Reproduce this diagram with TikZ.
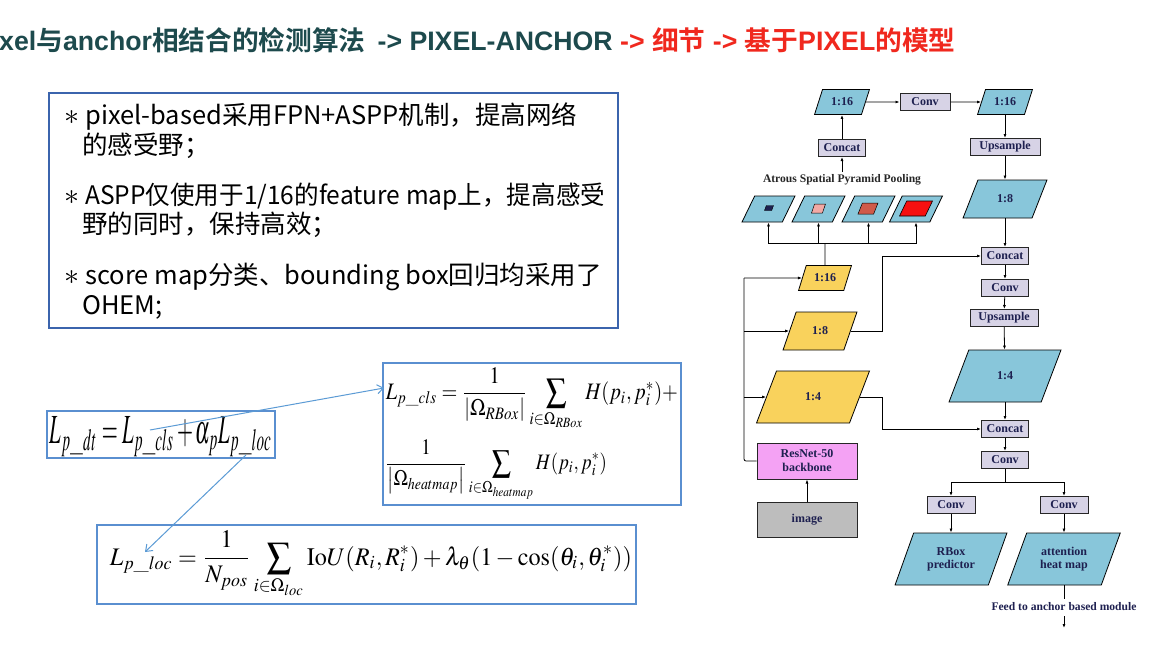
\documentclass[tikz,border=0pt]{standalone}
\usepackage{amsmath}
\usepackage{mathptmx}
\usepackage[no-math]{fontspec}
\usetikzlibrary{shapes.geometric,arrows.meta}
\newfontfamily\zh{Noto Sans CJK SC}[BoldFont={Noto Sans CJK SC Bold}]
\newfontfamily\arb{Liberation Sans}
\newfontfamily\tms{Liberation Serif}
\definecolor{ttl}{HTML}{1D4A4D}
\definecolor{tred}{HTML}{F0281E}
\definecolor{bluep}{HTML}{88C6DA}
\definecolor{yelp}{HTML}{F9D25C}
\definecolor{lav}{HTML}{D7D3E6}
\definecolor{pinkb}{HTML}{F4A2F4}
\definecolor{grayb}{HTML}{BDBDBD}
\definecolor{navy}{HTML}{1E2050}
\definecolor{tbord}{HTML}{3B64AD}
\definecolor{fbord}{HTML}{5A8FD0}
\definecolor{barrow}{HTML}{5B9BD5}
\definecolor{in2}{HTML}{F2A9A5}
\definecolor{in3}{HTML}{D05A4A}
\definecolor{in4}{HTML}{F61010}
\begin{document}
\begin{tikzpicture}[x=1pt,y=-1pt,
  every node/.style={inner sep=0pt},
  para/.style={trapezium, trapezium left angle=64, trapezium right angle=116,
    trapezium stretches=true, draw=black, line width=0.8pt, inner sep=1pt,
    font=\tms\bfseries\fontsize{12}{13}\selectfont, text=navy, align=center},
  opbox/.style={rectangle, draw=black!85, line width=1pt, fill=lav,
    minimum width=47pt, minimum height=17pt,
    font=\tms\bfseries\fontsize{12}{13}\selectfont, text=navy},
  arr/.style={-{Latex[length=4pt,width=3pt]}, line width=0.8pt},
  ln/.style={line width=0.8pt},
  txtline/.style={anchor=base west, font=\zh\fontsize{25.5}{30}\selectfont, text=black},
  starmark/.style={font=\fontsize{30}{30}\selectfont},
  fbox/.style={rectangle, draw=fbord, line width=1.3pt},
  barr/.style={draw=barrow, line width=1pt, -{Straight Barb[length=6pt,width=9pt]}},
]
\useasboundingbox (0,0) rectangle (1165,661);
\fill[white] (0,0) rectangle (1165,661);

% ---------- title ----------
\node[anchor=west, font=\fontsize{26.7}{30}\selectfont\bfseries] (title) at (-1,40)
 {{\color{ttl}{\arb xel}{\zh 与}{\arb anchor}{\zh 相结合的检测算法}\hspace{12pt}{\arb -> PIXEL-ANCHOR }}{\color{tred}{\arb -> }{\zh 细节}{\arb\ -> }{\zh 基于}{\arb PIXEL}{\zh 的模型}}};

% ---------- text box ----------
\node[rectangle, draw=tbord, line width=1.3pt, minimum width=569pt, minimum height=235pt] (tbox) at (333.5,210.5) {};
\node[starmark] (s1) at (72,118) {$\ast$};
\node[starmark] (s2) at (72,198) {$\ast$};
\node[starmark] (s3) at (72,278) {$\ast$};
\node[txtline] (t1) at (85,124) {pixel-based采用FPN+ASPP机制，提高网络};
\node[txtline] (t2) at (82,154) {的感受野；};
\node[txtline] (t3) at (85,204) {\scalebox{0.963}[1]{ASPP仅使用于1/16的feature map上，提高感受}};
\node[txtline] (t4) at (82,233) {野的同时，保持高效；};
\node[txtline] (t5) at (85,284) {score map分类、bounding box回归均采用了};
\node[txtline] (t6) at (82,314) {OHEM;};

% ---------- formulas ----------
\node[fbox, minimum width=228pt, minimum height=47pt] (box1) at (161,434.5) {};
\node[fbox, minimum width=298pt, minimum height=142pt] (box2) at (532,434) {};
\node[fbox, minimum width=539pt, minimum height=79pt] (box3) at (366.5,564.5) {};

\node (f1) at (161,436.5) {\resizebox*{222pt}{40pt}{$L_{p\_dt}=L_{p\_cls}+\alpha_p L_{p\_loc}$}};
\node (f2) at (532,399) {\resizebox*{292pt}{62pt}{$\displaystyle L_{p\_cls}=\frac{1}{\left|\Omega_{RBox}\right|}\sum_{i\in\Omega_{RBox}}H(p_i,p_i^{*})+$}};
\node (f3) at (496,470.5) {\resizebox*{222pt}{61pt}{$\displaystyle \frac{1}{\left|\Omega_{heatmap}\right|}\sum_{i\in\Omega_{heatmap}}H(p_i,p_i^{*})$}};
\node (f4) at (371,564.5) {\resizebox*{522pt}{67pt}{$\displaystyle L_{p\_loc}=\frac{1}{N_{pos}}\sum_{i\in\Omega_{loc}}\mathrm{Io}U(R_i,R_i^{*})+\lambda_\theta(1-\cos(\theta_i,\theta_i^{*}))$}};

\coordinate (a1s) at (150,430);
\coordinate (a1e) at (384,388);
\coordinate (a2s) at (246,455);
\coordinate (a2e) at (145,552);
\draw[barr] (a1s) -- (a1e);
\draw[barr] (a2s) -- (a2e);

% ---------- network: left column ----------
\node[para, fill=bluep, minimum width=55pt, minimum height=25pt] (L16) at (842,102) {1:16};
\node[opbox, minimum width=50pt] (conv0) at (925,102) {Conv};
\node[para, fill=bluep, minimum width=55pt, minimum height=25pt] (R16) at (1005,102) {1:16};
\node[opbox] (concatA) at (842,148) {Concat};
\node[font=\tms\bfseries\fontsize{11.6}{13}\selectfont, text=black!85] (asppl) at (842,180) {Atrous Spatial Pyramid Pooling};
\coordinate (asppt) at (842,172);

\node[para, fill=bluep, minimum width=53pt, minimum height=26pt] (p1) at (768.5,209) {\phantom{x}};
\node[para, fill=bluep, minimum width=53pt, minimum height=26pt] (p2) at (818.5,209) {\phantom{x}};
\node[para, fill=bluep, minimum width=53pt, minimum height=26pt] (p3) at (868.5,209) {\phantom{x}};
\node[para, fill=bluep, minimum width=53pt, minimum height=26pt] (p4) at (916,209) {\phantom{x}};
\node[para, fill=navy, line width=0.4pt, inner sep=0.2pt, font=\fontsize{2}{2}\selectfont, minimum width=9pt, minimum height=5pt] (i1) at (769,208) {\phantom{x}};
\node[para, fill=in2, line width=0.5pt, font=\fontsize{3}{3}\selectfont, minimum width=14pt, minimum height=9pt] (i2) at (818.5,208.5) {\phantom{x}};
\node[para, fill=in3, line width=0.5pt, font=\fontsize{3}{3}\selectfont, minimum width=20pt, minimum height=11pt] (i3) at (868,208.5) {\phantom{x}};
\node[para, fill=in4, line width=0.6pt, font=\fontsize{3}{3}\selectfont, minimum width=33pt, minimum height=15pt] (i4) at (916,208.5) {\phantom{x}};

\node[para, fill=yelp, minimum width=53pt, minimum height=25pt] (Y16) at (825,278) {1:16};
\node[para, fill=yelp, minimum width=74pt, minimum height=38pt] (Y8) at (820,331) {1:8};
\node[para, fill=yelp, minimum width=113pt, minimum height=52pt] (Y4) at (813,397) {1:4};
\node[rectangle, draw=black!85, line width=1pt, fill=pinkb, minimum width=100pt, minimum height=36pt,
  font=\tms\bfseries\fontsize{12}{14}\selectfont, text=navy, align=center] (resnet) at (807,461) {ResNet-50\\backbone};
\node[rectangle, draw=black!85, line width=1pt, fill=grayb, minimum width=100pt, minimum height=35pt,
  font=\tms\bfseries\fontsize{12}{13}\selectfont, text=navy] (image) at (807,520) {image};

\draw[arr] (L16) -- (conv0);
\draw[arr] (conv0) -- (R16);
\draw[arr] (concatA) -- (L16);
\draw[arr] (asppt) -- (concatA);
\coordinate (bus) at (825,243);
\draw[ln] (Y16.north) -- (bus);
\draw[arr] (bus) -| (p1.south);
\draw[arr] (bus) -| (p2.south);
\draw[arr] (bus) -| (p3.south);
\draw[arr] (bus) -| (p4.south);
\draw[arr] (image) -- (resnet);
\coordinate (bb) at (744,278);
\draw[ln, rounded corners=2pt] (resnet.west) -| (bb);
\draw[arr] (bb) -- (Y16.west);
\draw[arr] (bb |- Y8.west) -- (Y8.west);
\draw[arr] (bb |- Y4.west) -- (Y4.west);

% ---------- network: right column ----------
\node[opbox, minimum width=70pt] (up1) at (1005,147) {Upsample};
\node[para, fill=bluep, minimum width=84pt, minimum height=38pt] (B8) at (1005,199) {1:8};
\node[opbox] (concat1) at (1005,256) {Concat};
\node[opbox] (convB) at (1005,288) {Conv};
\node[opbox, minimum width=68pt] (up2) at (1004,318) {Upsample};
\node[para, fill=bluep, minimum width=112pt, minimum height=52pt] (B4) at (1005,376) {1:4};
\node[opbox] (concat2) at (1005,429) {Concat};
\node[opbox] (convC) at (1005,460) {Conv};
\node[opbox, minimum width=48pt] (convL) at (951,505) {Conv};
\node[opbox, minimum width=48pt] (convR) at (1064,505) {Conv};
\node[para, fill=bluep, minimum width=112pt, minimum height=52pt] (rbox) at (951,559) {RBox\\predictor};
\node[para, fill=bluep, minimum width=113pt, minimum height=52pt] (att) at (1064,559) {attention\\heat map};
\node[font=\tms\bfseries\fontsize{11.6}{13}\selectfont, text=navy] (feed) at (1064,607) {Feed to anchor based module};
\coordinate (attb) at (1064,585);
\coordinate (feedt) at (1064,599);
\coordinate (feedb) at (1064,616);
\coordinate (feedend) at (1064,628);

\draw[arr] (R16) -- (up1);
\draw[arr] (up1) -- (B8);
\draw[arr] (B8) -- (concat1);
\draw[arr] (concat1) -- (convB);
\draw[arr] (convB) -- (up2);
\draw[arr] (up2) -- (B4);
\draw[arr] (B4) -- (concat2);
\draw[arr] (concat2) -- (convC);
\coordinate (split) at (1005,482);
\draw[ln] (convC.south) -- (split);
\draw[arr] (split) -| (convL.north);
\draw[arr] (split) -| (convR.north);
\draw[arr] (convL) -- (rbox);
\draw[arr] (convR) -- (att);
\draw[ln] (attb) -- (feedt);
\draw[arr] (feedb) -- (feedend);

\coordinate (det) at (882,300);
\draw[arr] (Y8.east) -- (det |- Y8.east) |- (concat1.west);
\draw[arr] (Y4.east) -- (det |- Y4.east) |- (concat2.west);
\end{tikzpicture}
\end{document}
